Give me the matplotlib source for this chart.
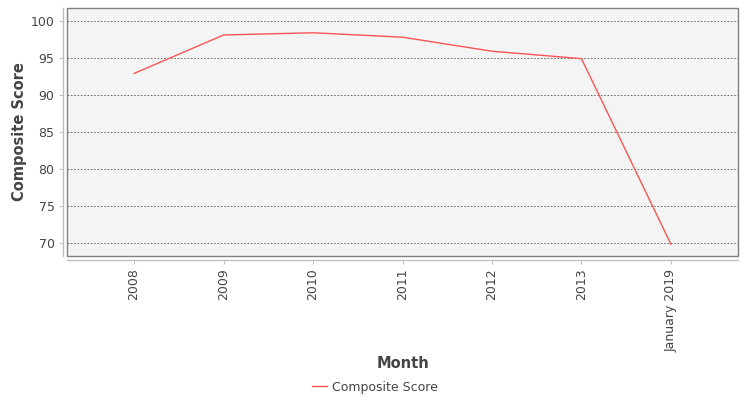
import matplotlib
matplotlib.use("Agg")
import matplotlib.pyplot as plt

# data
months = ["2008", "2009", "2010", "2011", "2012", "2013", "January 2019"]
composite_score = [92.9, 98.1, 98.4, 97.8, 95.9, 94.9, 69.8]
y_ticks = [70, 75, 80, 85, 90, 95, 100]

plt.rcParams['font.family'] = ['DejaVu Sans']
text_color = "#444444"

fig = plt.figure(figsize=(7.5, 4), dpi=100)
ax_w, ax_h = (738 - 67), (256 - 8)
ax = fig.add_axes([67 / 750, 1 - 256 / 400, ax_w / 750, ax_h / 400])

# spines first: set_position resets the ticks
for side in ["top", "right"]:
    ax.spines[side].set_visible(False)
for side in ["left", "bottom"]:
    ax.spines[side].set_position(("outward", 3))
    ax.spines[side].set_color("#c0c0c0")
    ax.spines[side].set_linewidth(1.0)

x = list(range(len(months)))
ax.plot(x, composite_score, color="#ff5555", linewidth=1.0, label="Composite Score")

ax.set_xlim(-0.75, len(months) - 0.25)
ax.set_ylim(68.2, 101.75)
ax.set_xticks(x)
ax.set_xticklabels(months)
ax.set_yticks(y_ticks)
ax.tick_params(axis="both", length=3, width=0.8, color="#c0c0c0", pad=3,
               labelsize=9, labelcolor=text_color)
ax.tick_params(axis="x", labelrotation=90)

ax.set_facecolor("#f4f4f4")
ax.patch.set_edgecolor("#808080")
ax.patch.set_linewidth(1.0)
ax.grid(axis="y", color="#555555", linestyle=(0, (2, 2)), linewidth=0.6)
ax.set_axisbelow(True)

ax.set_ylabel("Composite Score", fontsize=10.5, fontweight="bold", color=text_color, va="center")
ax.yaxis.set_label_coords((20 - 67) / ax_w, 0.5)
ax.set_xlabel("Month", fontsize=10.5, fontweight="bold", color=text_color, va="center")
ax.xaxis.set_label_coords(0.5, (256 - 364) / ax_h)

fig.legend(loc="center", bbox_to_anchor=(0.5, 1 - 387 / 400), frameon=False,
           fontsize=9, handlelength=1.2, handletextpad=0.4, labelcolor=text_color)

fig.savefig("out.png", dpi=100, facecolor="white")
